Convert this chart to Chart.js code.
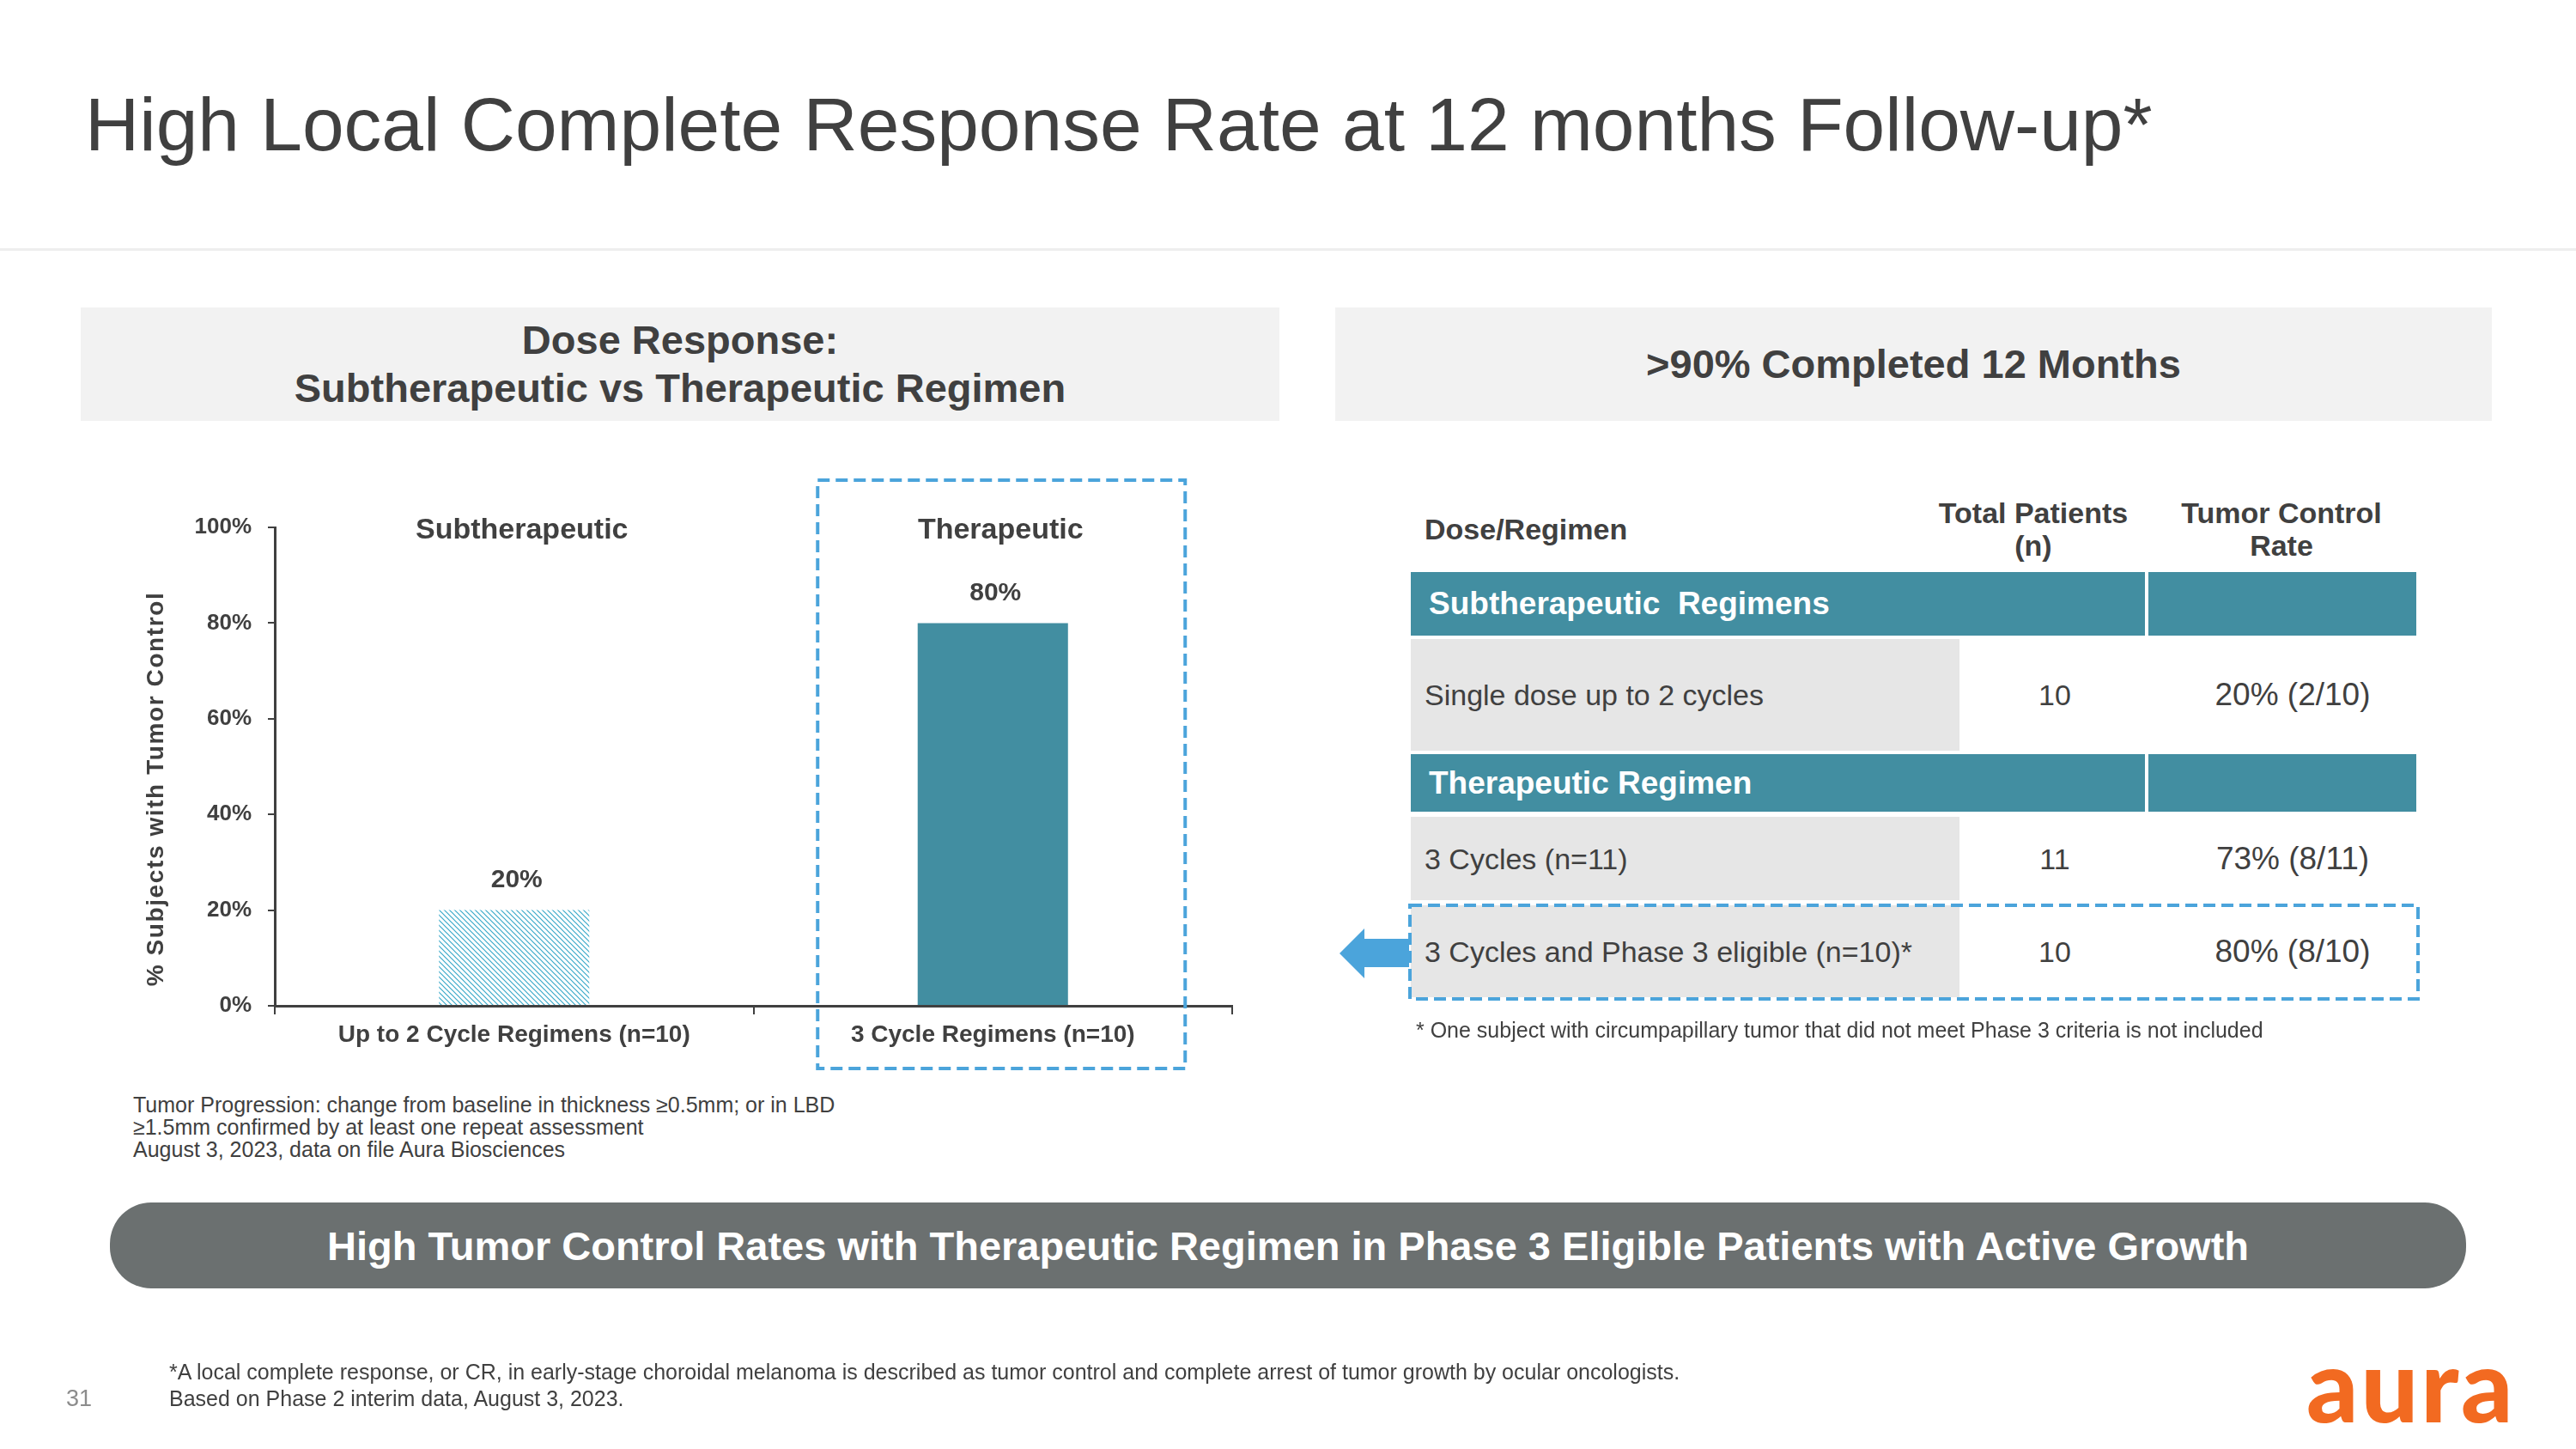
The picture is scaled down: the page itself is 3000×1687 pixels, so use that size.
<!DOCTYPE html>
<html>
<head>
<meta charset="utf-8">
<script src="https://cdn.jsdelivr.net/npm/chart.js@4.4.0/dist/chart.umd.min.js"></script>
<style>
    html, body { margin: 0; padding: 0; background: #fff; }
    body { width: 3000px; height: 1687px; position: relative; overflow: hidden;
           font-family: 'Liberation Sans', Arial, sans-serif; color: #404040; }
    .abs { position: absolute; white-space: pre; }
    .title { left: 99px; top: 95px; font-size: 87.5px; line-height: 100px; }
    .rule { left: 0; top: 289px; width: 3000px; height: 3px; background: #eeeeee; }
    .panel { background: #f2f2f2; top: 358px; height: 132px; display: flex; align-items: center;
             justify-content: center; text-align: center; font-weight: bold; font-size: 47px; line-height: 56px; }
    .note { font-size: 25px; line-height: 26px; }
    .teal { background: #428ea1; }
    .gray { background: #e6e6e6; }
    .cell { font-size: 34px; line-height: 40px; }
    .rate { font-size: 37px; line-height: 40px; }
    .grp { color: #fff; font-weight: bold; font-size: 37px; line-height: 44px; }
    .hdr { font-weight: bold; font-size: 34px; line-height: 38px; text-align: center; }
    .banner { left: 128px; top: 1400px; width: 2744px; height: 100px; border-radius: 48px; background: #6b7070;
              color: #fff; font-weight: bold; font-size: 47px; display: flex; align-items: center; justify-content: center; }
    .logo { left: 2686px; top: 1546px; font-family: Lato, 'Liberation Sans', sans-serif; font-weight: 900;
            font-size: 118px; line-height: 130px; color: #f26a21; letter-spacing: 3px; }
    #chartBox { position: absolute; left: 100px; top: 540px; width: 1400px; height: 720px; }
    #chartBox canvas { display: block; }
</style>
</head>
<body>
<div class="abs title">High Local Complete Response Rate at 12 months Follow-up*</div>
<div class="abs rule"></div>

<div class="abs panel" style="left:94px; width:1396px;">Dose Response:<br>Subtherapeutic vs Therapeutic Regimen</div>
<div class="abs panel" style="left:1555px; width:1347px;">&gt;90% Completed 12 Months</div>

<div id="chartBox"><canvas id="doseChart"></canvas></div>

<div class="abs note" style="left:155px; top:1273px;">Tumor Progression: change from baseline in thickness ≥0.5mm; or in LBD
≥1.5mm confirmed by at least one repeat assessment
August 3, 2023, data on file Aura Biosciences</div>

<div id="table"></div>

<svg class="abs" style="left:0; top:0;" width="3000" height="1687">
    <rect x="1642" y="1054" width="1174" height="109" fill="none" stroke="#4ba4db" stroke-width="4" stroke-dasharray="14 7"/>
    <polygon points="1560,1110 1589,1081 1589,1093 1641,1093 1641,1126 1589,1126 1589,1139" fill="#4ba4db"/>
</svg>

<div class="abs" style="left:1649px; top:1185px; font-size:25px; line-height:28px;">* One subject with circumpapillary tumor that did not meet Phase 3 criteria is not included</div>

<div class="abs banner">High Tumor Control Rates with Therapeutic Regimen in Phase 3 Eligible Patients with Active Growth</div>

<div class="abs note" style="left:197px; top:1582px; line-height:31px;">*A local complete response, or CR, in early-stage choroidal melanoma is described as tumor control and complete arrest of tumor growth by ocular oncologists.
Based on Phase 2 interim data, August 3, 2023.</div>
<div class="abs" style="left:77px; top:1612px; font-size:27px; line-height:32px; color:#8c8c8c;">31</div>
<div class="abs logo">aura</div>

<script>
(function() {
    'use strict';

    // Chart data
    const categories = ['Up to 2 Cycle Regimens (n=10)', '3 Cycle Regimens (n=10)'];
    const groupNames = ['Subtherapeutic', 'Therapeutic'];
    const tumorControl = [20, 80];
    const yTicks = [0, 20, 40, 60, 80, 100];
    const yTitle = '% Subjects with Tumor Control';

    // Table data
    const tableHeaders = ['Dose/Regimen', 'Total Patients\n(n)', 'Tumor Control\nRate'];
    const groupLabels = ['Subtherapeutic  Regimens', 'Therapeutic Regimen'];
    const rowLabels = ['Single dose up to 2 cycles', '3 Cycles (n=11)', '3 Cycles and Phase 3 eligible (n=10)*'];
    const rowPatients = ['10', '11', '10'];
    const rowRates = ['20% (2/10)', '73% (8/11)', '80% (8/10)'];

    const TEXT = '#404040';
    const FONT = "'Liberation Sans', Arial, sans-serif";

    document.addEventListener('DOMContentLoaded', function() {
        buildTable();
        initDoseChart();
    });

    /**
     * Build the right hand table
     */
    function buildTable() {
        const host = document.getElementById('table');
        let html = '';

        // header
        html += `<div class="abs hdr" style="left:1659px; top:597px; text-align:left;">${tableHeaders[0]}</div>`;
        html += `<div class="abs hdr" style="left:2218px; width:300px; top:578px;">${tableHeaders[1]}</div>`;
        html += `<div class="abs hdr" style="left:2507px; width:300px; top:578px;">${tableHeaders[2]}</div>`;

        // group bars: [top, height]
        const groupBoxes = [[666, 74], [878, 67]];
        groupBoxes.forEach(function(b, i) {
            html += `<div class="abs teal" style="left:1643px; top:${b[0]}px; width:1171px; height:${b[1]}px;"></div>`;
            html += `<div class="abs" style="left:2498px; top:${b[0]}px; width:4px; height:${b[1]}px; background:#fff;"></div>`;
            html += `<div class="abs grp" style="left:1664px; top:${b[0] + b[1] / 2 - 22}px;">${groupLabels[i]}</div>`;
        });

        // data rows: [top, height]
        const rowBoxes = [[744, 130], [951, 97], [1054, 107]];
        rowBoxes.forEach(function(b, i) {
            const mid = b[0] + b[1] / 2 - 20;
            html += `<div class="abs gray" style="left:1643px; top:${b[0]}px; width:639px; height:${b[1]}px;"></div>`;
            html += `<div class="abs cell" style="left:1659px; top:${mid}px;">${rowLabels[i]}</div>`;
            html += `<div class="abs cell" style="left:2293px; width:200px; top:${mid}px; text-align:center;">${rowPatients[i]}</div>`;
            html += `<div class="abs rate" style="left:2520px; width:300px; top:${mid}px; text-align:center;">${rowRates[i]}</div>`;
        });

        host.innerHTML = html;
    }

    /**
     * Diagonal hatch for the subtherapeutic bar
     */
    function makeHatch() {
        const c = document.createElement('canvas');
        c.width = 6;
        c.height = 6;
        const g = c.getContext('2d');
        g.strokeStyle = '#3aa9c9';
        g.lineWidth = 1.2;
        g.beginPath();
        g.moveTo(-1, -1); g.lineTo(7, 7);
        g.moveTo(-1, 5); g.lineTo(1, 7);
        g.moveTo(5, -1); g.lineTo(7, 1);
        g.stroke();
        return g.createPattern(c, 'repeat');
    }

    /**
     * Labels, group names, highlight box and rotated y title
     */
    const annotations = {
        id: 'annotations',
        afterDraw(chart) {
            const ctx = chart.ctx;
            const x = chart.scales.x;
            const y = chart.scales.y;
            const area = chart.chartArea;
            const meta = chart.getDatasetMeta(0);

            ctx.save();
            ctx.fillStyle = TEXT;
            ctx.textAlign = 'center';
            ctx.textBaseline = 'middle';

            // group names along the 100% line
            ctx.font = `bold 34px ${FONT}`;
            groupNames.forEach(function(name, i) {
                ctx.fillText(name, x.getPixelForValue(i) + 9, y.getPixelForValue(100) + 4);
            });

            // value labels above bars
            ctx.font = `bold 30px ${FONT}`;
            meta.data.forEach(function(bar, i) {
                ctx.fillText(tumorControl[i] + '%', bar.x + 3, bar.y - 35);
            });

            // dashed box round the therapeutic category
            const cx = x.getPixelForValue(1) + 10;
            const boxTop = y.getPixelForValue(100) - 55;
            ctx.strokeStyle = '#4ba4db';
            ctx.lineWidth = 4;
            ctx.setLineDash([14, 7]);
            ctx.strokeRect(cx - 214, boxTop, 428, area.bottom + 73 - boxTop);
            ctx.setLineDash([]);

            // y axis title
            ctx.translate(82, (area.top + area.bottom) / 2 + 26);
            ctx.rotate(-Math.PI / 2);
            ctx.font = `bold 28px ${FONT}`;
            ctx.letterSpacing = '1.6px';
            ctx.fillText(yTitle, 0, 0);
            ctx.restore();
        }
    };

    /**
     * Initialize dose response chart
     */
    function initDoseChart() {
        const canvas = document.getElementById('doseChart');
        if (!canvas) return;

        new Chart(canvas.getContext('2d'), {
            type: 'bar',
            data: {
                labels: categories,
                datasets: [{
                    data: tumorControl,
                    backgroundColor: [makeHatch(), '#428ea1'],
                    borderWidth: 0,
                    barPercentage: 0.314,
                    categoryPercentage: 1
                }]
            },
            options: {
                responsive: true,
                maintainAspectRatio: false,
                animation: false,
                layout: {
                    padding: { top: 74, right: 65, left: 0, bottom: 0 }
                },
                plugins: {
                    legend: { display: false },
                    tooltip: { enabled: false }
                },
                scales: {
                    x: {
                        offset: true,
                        afterFit: function(scale) { scale.height = 89; },
                        grid: {
                            display: true,
                            offset: true,
                            drawOnChartArea: false,
                            drawTicks: true,
                            tickLength: 10,
                            color: TEXT,
                            lineWidth: 2
                        },
                        border: { display: true, color: TEXT, width: 3 },
                        ticks: {
                            color: TEXT,
                            padding: 7,
                            maxRotation: 0,
                            font: { family: FONT, size: 28, weight: 'bold' }
                        }
                    },
                    y: {
                        min: 0,
                        max: 100,
                        afterFit: function(scale) { scale.width = 220; },
                        afterBuildTicks: function(scale) {
                            scale.ticks = yTicks.map(function(v) { return { value: v }; });
                        },
                        grid: {
                            display: true,
                            drawOnChartArea: false,
                            drawTicks: true,
                            tickLength: 8,
                            color: TEXT,
                            lineWidth: 2
                        },
                        border: { display: true, color: TEXT, width: 3 },
                        ticks: {
                            color: TEXT,
                            padding: 19,
                            font: { family: FONT, size: 26, weight: 'bold' },
                            callback: function(v) { return v + '%'; }
                        }
                    }
                }
            },
            plugins: [annotations]
        });
    }
})();
</script>
</body>
</html>
